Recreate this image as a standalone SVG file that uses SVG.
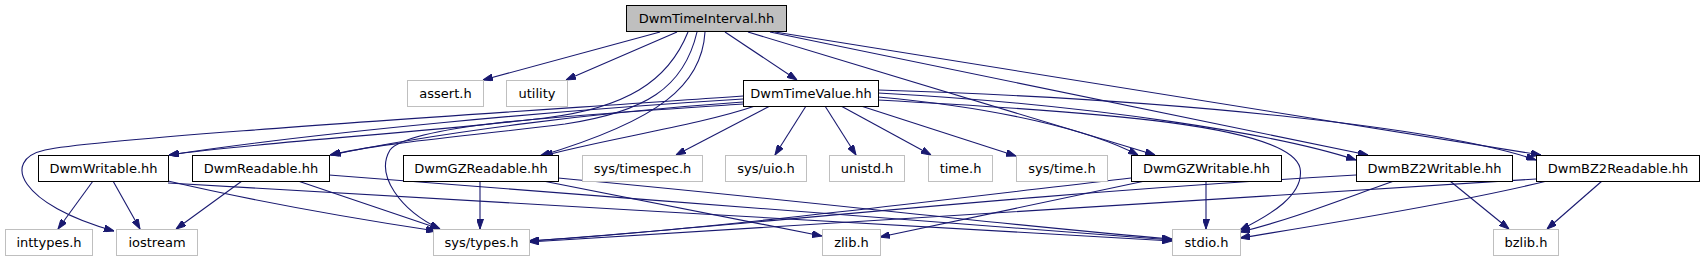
<svg xmlns="http://www.w3.org/2000/svg" width="1705" height="261" viewBox="0 0 1705 261">
<defs>
<style>
.n rect{fill:#fff;stroke:#000;stroke-width:1}
.n.ext rect{stroke:#bfbfbf}
.n.main rect{fill:#bfbfbf}
.n text{font-family:"DejaVu Sans",sans-serif;font-size:13px;fill:#000;text-anchor:middle}
#edges path{fill:none;stroke:#191970;stroke-width:1.1;marker-end:url(#a)}
</style>
<marker id="a" markerWidth="10" markerHeight="7" refX="10" refY="3.5" orient="auto" markerUnits="userSpaceOnUse"><path d="M0,0 L10,3.5 L0,7 z" fill="#191970" stroke="#191970" stroke-width="1"/></marker>
</defs>
<rect width="1705" height="261" fill="#fff"/>
<g id="edges">
<path d="M660,32 L483,80"/>
<path d="M677,32 L566,80"/>
<path d="M725,32 L797,80"/>
<path d="M688,32 C668,82 625,108 545,118 C420,133 260,142 169,155"/>
<path d="M697,32 C684,88 645,112 565,124 C470,136 380,143 330,155"/>
<path d="M705,32 C702,85 660,120 540,156"/>
<path d="M748,32 L1155,155"/>
<path d="M770,32 L1368,155"/>
<path d="M775,32 L1541,155"/>
<path d="M743,96 C500,113 100,138 45,150 C0,160 20,205 114,231"/>
<path d="M743,99 C560,110 320,132 169,155"/>
<path d="M743,102 C600,112 440,132 331,155"/>
<path d="M755,106 C700,125 600,140 543,156"/>
<path d="M743,104 C560,116 410,125 390,150 C375,175 400,210 440,229"/>
<path d="M770,106 L676,155"/>
<path d="M806,106 L775,155"/>
<path d="M825,106 L856,155"/>
<path d="M841,106 L931,155"/>
<path d="M861,106 L1016,156"/>
<path d="M878,97 C1000,108 1090,130 1138,155"/>
<path d="M878,93 C1100,105 1280,135 1356,160"/>
<path d="M878,90 C1200,100 1450,130 1536,160"/>
<path d="M878,100 C1100,112 1290,125 1300,168 C1305,195 1270,215 1240,230"/>
<path d="M93,181 L58,229"/>
<path d="M113,181 L140,229"/>
<path d="M168,181 C250,200 350,218 436,231"/>
<path d="M168,183 C450,200 900,225 1172,241"/>
<path d="M242,181 L176,229"/>
<path d="M298,181 L440,229"/>
<path d="M329,175 C600,195 950,225 1172,240"/>
<path d="M480,181 L480,229"/>
<path d="M543,181 L822,236"/>
<path d="M558,178 C800,200 1000,225 1172,239"/>
<path d="M1206,181 L1206,229"/>
<path d="M1131,178 C900,205 700,230 529,241"/>
<path d="M1145,181 L880,237"/>
<path d="M1450,181 L1509,229"/>
<path d="M1394,181 C1340,200 1290,220 1240,232"/>
<path d="M1356,175 C1000,195 700,230 529,241"/>
<path d="M1602,181 L1547,229"/>
<path d="M1547,181 C1450,205 1300,228 1240,238"/>
<path d="M1536,179 C1200,200 700,232 529,242"/>
</g>
<g id="n1" class="n main"><rect x="626.5" y="5.5" width="160" height="26"/><text x="706.5" y="23">DwmTimeInterval.hh</text></g>
<g id="n2" class="n ext"><rect x="407.5" y="80.5" width="76" height="26"/><text x="445.5" y="98">assert.h</text></g>
<g id="n3" class="n ext"><rect x="506.5" y="80.5" width="61" height="26"/><text x="537" y="98">utility</text></g>
<g id="n4" class="n"><rect x="743.5" y="80.5" width="135" height="26"/><text x="811" y="98">DwmTimeValue.hh</text></g>
<g id="n5" class="n"><rect x="38.5" y="155.5" width="130" height="26"/><text x="103.5" y="173">DwmWritable.hh</text></g>
<g id="n6" class="n"><rect x="192.5" y="155.5" width="137" height="26"/><text x="261" y="173">DwmReadable.hh</text></g>
<g id="n7" class="n"><rect x="403.5" y="155.5" width="155" height="26"/><text x="481" y="173">DwmGZReadable.hh</text></g>
<g id="n8" class="n ext"><rect x="582.5" y="155.5" width="120" height="26"/><text x="642.5" y="173">sys/timespec.h</text></g>
<g id="n9" class="n ext"><rect x="725.5" y="155.5" width="81" height="26"/><text x="766" y="173">sys/uio.h</text></g>
<g id="n10" class="n ext"><rect x="829.5" y="155.5" width="75" height="26"/><text x="867" y="173">unistd.h</text></g>
<g id="n11" class="n ext"><rect x="928.5" y="155.5" width="64" height="26"/><text x="960.5" y="173">time.h</text></g>
<g id="n12" class="n ext"><rect x="1016.5" y="155.5" width="91" height="26"/><text x="1062" y="173">sys/time.h</text></g>
<g id="n13" class="n"><rect x="1131.5" y="155.5" width="150" height="26"/><text x="1206.5" y="173">DwmGZWritable.hh</text></g>
<g id="n14" class="n"><rect x="1356.5" y="155.5" width="156" height="26"/><text x="1434.5" y="173">DwmBZ2Writable.hh</text></g>
<g id="n15" class="n"><rect x="1536.5" y="155.5" width="163" height="26"/><text x="1618" y="173">DwmBZ2Readable.hh</text></g>
<g id="n16" class="n ext"><rect x="5.5" y="229.5" width="87" height="26"/><text x="49" y="247">inttypes.h</text></g>
<g id="n17" class="n ext"><rect x="116.5" y="229.5" width="81" height="26"/><text x="157" y="247">iostream</text></g>
<g id="n18" class="n ext"><rect x="433.5" y="229.5" width="96" height="26"/><text x="481.5" y="247">sys/types.h</text></g>
<g id="n19" class="n ext"><rect x="822.5" y="229.5" width="58" height="26"/><text x="851.5" y="247">zlib.h</text></g>
<g id="n20" class="n ext"><rect x="1172.5" y="229.5" width="68" height="26"/><text x="1206.5" y="247">stdio.h</text></g>
<g id="n21" class="n ext"><rect x="1493.5" y="229.5" width="65" height="26"/><text x="1526" y="247">bzlib.h</text></g>
</svg>
